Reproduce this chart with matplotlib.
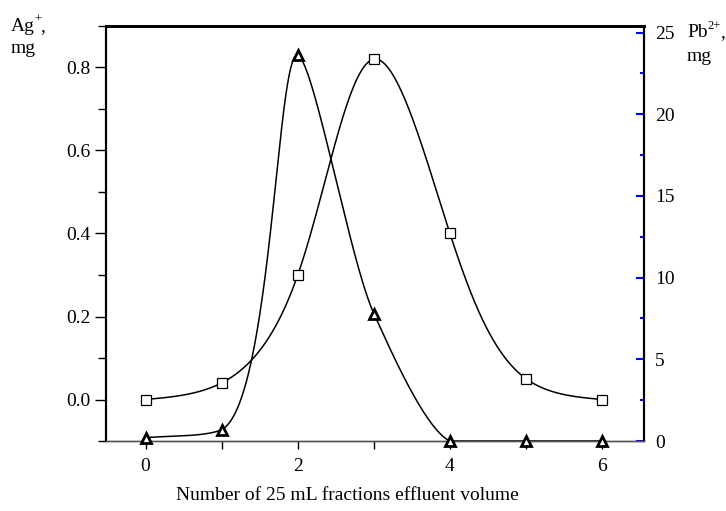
import numpy as np
import matplotlib
matplotlib.use("Agg")
import matplotlib.pyplot as plt
from matplotlib.ticker import MultipleLocator, FormatStrFormatter
from matplotlib.transforms import offset_copy

# fractions (x), Ag+ (left axis, squares), Pb2+ (right axis, triangles)
fractions = [0, 1, 2, 3, 4, 5, 6]
ag_mg = [0.0, 0.04, 0.30, 0.82, 0.40, 0.05, 0.0]
pb_mg = [0.2, 0.7, 23.6, 7.8, 0.0, 0.0, 0.0]

plt.rcParams["font.family"] = ["Liberation Serif", "DejaVu Serif"]
FS = 14


def spline_eval(t, y, ts):
    # natural cubic spline through (t, y), evaluated at ts
    t = np.asarray(t, float)
    y = np.asarray(y, float)
    k = len(t)
    h = np.diff(t)
    A = np.zeros((k, k))
    b = np.zeros(k)
    A[0, 0] = 1
    A[-1, -1] = 1
    for i in range(1, k - 1):
        A[i, i - 1] = h[i - 1]
        A[i, i] = 2 * (h[i - 1] + h[i])
        A[i, i + 1] = h[i]
        b[i] = 6 * ((y[i + 1] - y[i]) / h[i] - (y[i] - y[i - 1]) / h[i - 1])
    M = np.linalg.solve(A, b)
    idx = np.clip(np.searchsorted(t, ts) - 1, 0, k - 2)
    t0, t1 = t[idx], t[idx + 1]
    hh = t1 - t0
    a0 = t1 - ts
    a1 = ts - t0
    return (M[idx] * a0 ** 3 + M[idx + 1] * a1 ** 3) / (6 * hh) \
        + (y[idx] / hh - M[idx] * hh / 6) * a0 \
        + (y[idx + 1] / hh - M[idx + 1] * hh / 6) * a1


def natural_curve(P, alpha, n=800):
    # centripetal parametric natural spline through screen points
    d = np.linalg.norm(np.diff(P, axis=0), axis=1) ** alpha
    t = np.concatenate([[0], np.cumsum(d)])
    ts = np.linspace(0, t[-1], n)
    return np.column_stack([spline_eval(t, P[:, 0], ts),
                            spline_eval(t, P[:, 1], ts)])


def hermite_curve(P, alpha, tau, n=300):
    # parametric Hermite spline (Catmull-Rom like) with tension
    k = len(P)
    d = np.linalg.norm(np.diff(P, axis=0), axis=1) ** alpha
    t = np.concatenate([[0], np.cumsum(d)])
    m = np.zeros_like(P)
    for i in range(k):
        if i == 0:
            m[i] = (P[1] - P[0]) / (t[1] - t[0])
        elif i == k - 1:
            m[i] = (P[-1] - P[-2]) / (t[-1] - t[-2])
        else:
            a = t[i] - t[i - 1]
            b = t[i + 1] - t[i]
            m[i] = ((P[i] - P[i - 1]) / a * b + (P[i + 1] - P[i]) / b * a) / (a + b)
        m[i] *= (1 - tau)
    s = np.linspace(0, 1, n)[:, None]
    h00 = 2 * s ** 3 - 3 * s ** 2 + 1
    h10 = s ** 3 - 2 * s ** 2 + s
    h01 = -2 * s ** 3 + 3 * s ** 2
    h11 = s ** 3 - s ** 2
    out = []
    for i in range(k - 1):
        dt = t[i + 1] - t[i]
        out.append(h00 * P[i] + h10 * dt * m[i] + h01 * P[i + 1]
                   + h11 * dt * m[i + 1])
    return np.vstack(out)


def smooth_curve(axis, x, y, kind):
    pts = axis.transData.transform(np.column_stack([x, y]))
    if kind == "natural":
        C = natural_curve(pts, 0.5)
    else:
        C = hermite_curve(pts, 0.75, 0.3)
    back = axis.transData.inverted().transform(C)
    return back[:, 0], back[:, 1]


fig = plt.figure(figsize=(7.26, 5.11), dpi=100)
ax = fig.add_axes([106 / 726, 70 / 511, 538 / 726, 415 / 511])
ax2 = ax.twinx()

ax.set_xlim(-0.52, 6.55)
ax.set_ylim(-0.1, 0.9)
ax2.set_ylim(0, 25.4)

# Ag+ curve with squares
xs, ys = smooth_curve(ax, fractions, ag_mg, "natural")
ax.plot(xs, ys, color="black", lw=1.1)
ax.plot(fractions, ag_mg, "s", ms=6.5, mfc="white", mec="black", mew=0.9,
        linestyle="none")

# Pb2+ curve with triangles
xs, ys = smooth_curve(ax2, fractions, pb_mg, "hermite")
ys = np.maximum(ys, 0)
ax2.plot(xs, ys, color="black", lw=1.1, clip_on=False)
ax2.plot(fractions, pb_mg, "^", ms=7, mfc="white", mec="black", mew=2,
         linestyle="none", clip_on=False, zorder=5)

ax.xaxis.set_major_locator(MultipleLocator(2))
ax.xaxis.set_minor_locator(MultipleLocator(1))
ax.yaxis.set_major_locator(MultipleLocator(0.2))
ax.yaxis.set_minor_locator(MultipleLocator(0.1))
ax.yaxis.set_major_formatter(FormatStrFormatter("%.1f"))
ax2.yaxis.set_major_locator(MultipleLocator(5))
ax2.yaxis.set_minor_locator(MultipleLocator(2.5))

ax.tick_params(axis="x", which="both", direction="out", length=6, width=1,
               labelsize=FS, pad=6)
ax.tick_params(axis="y", which="major", direction="out", length=8, width=1,
               labelsize=FS, pad=3)
ax.tick_params(axis="y", which="minor", direction="out", length=6, width=1)
ax2.tick_params(axis="y", which="major", direction="in", length=6, width=1.5,
                color="blue", labelsize=FS, pad=8)
ax2.tick_params(axis="y", which="minor", direction="in", length=3, width=1.5,
                color="blue")

for a in (ax, ax2):
    a.spines["top"].set_linewidth(2)
    a.spines["left"].set_linewidth(1.5)
    a.spines["right"].set_linewidth(1.5)
    a.spines["bottom"].set_linewidth(1)
    a.spines["bottom"].set_color("#555555")


def unit_label(x, y, base, sup, base_w, gap):
    # base text, small raised superscript, comma, and "mg" below
    fig.text(x, y, base, fontsize=FS, ha="left", va="baseline")
    tr = offset_copy(fig.transFigure, fig=fig, x=base_w, y=6, units="points")
    fig.text(x, y, sup, fontsize=9, ha="left", va="baseline", transform=tr)
    sup_w = 4.6 * len(sup)
    tr2 = offset_copy(fig.transFigure, fig=fig, x=base_w + sup_w, y=0,
                      units="points")
    fig.text(x, y, ",", fontsize=FS, ha="left", va="baseline", transform=tr2)
    tr3 = offset_copy(fig.transFigure, fig=fig, x=0, y=-gap, units="points")
    fig.text(x, y, "mg", fontsize=FS, ha="left", va="baseline", transform=tr3)


unit_label(11 / 726, 1 - 31 / 511, "Ag", "+", 16.8, 15.5)
unit_label(687 / 726, 1 - 37 / 511, "Pb", "2+", 14.5, 17)

fig.text(347 / 726, 1 - 495 / 511, "Number of 25 mL fractions effluent volume",
         fontsize=FS, ha="center", va="center")

fig.savefig("out.png", dpi=100)
